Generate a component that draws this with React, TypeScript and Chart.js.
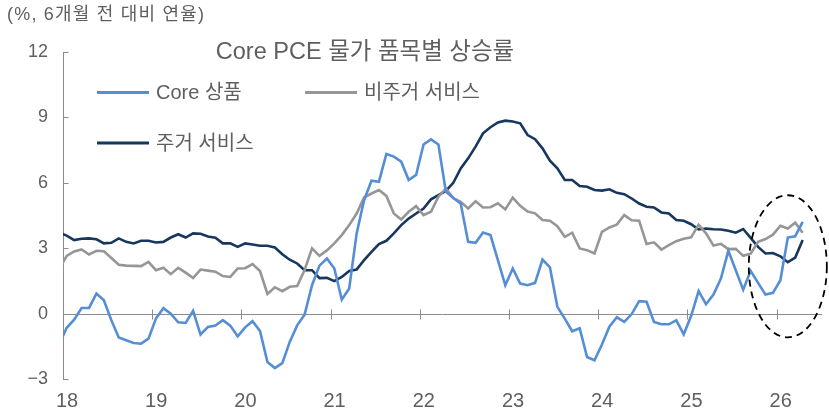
import React, { useEffect, useRef } from 'react';
import { Chart, registerables } from 'chart.js';

Chart.register(...registerables);

// Year tick labels (ticks at each January)
const YEAR_LABELS = ['18', '19', '20', '21', '22', '23', '24', '25', '26'];
const Y_MIN = -3;
const Y_MAX = 12;
const Y_STEP = 3;
const X_MAX = 102.1; // months since Jan 2018 where the axis ends

// Monthly data, Dec 2017 .. Apr 2026, plotted at mid-month
const FIRST_POINT_X = -0.5;

const CORE_GOODS = [
  -1.4, -0.65, -0.28, 0.26, 0.26, 0.92, 0.61, -0.3, -1.1, -1.22,
  -1.35, -1.38, -1.15, -0.23, 0.25, 0.0, -0.4, -0.43, 0.13, -0.96,
  -0.61, -0.55, -0.3, -0.55, -1.04, -0.63, -0.35, -0.8, -2.22, -2.5,
  -2.27, -1.3, -0.54, -0.05, 1.3, 2.2, 2.53, 2.07, 0.64, 1.15,
  3.68, 5.2, 6.1, 6.05, 7.32, 7.2, 6.97, 6.13, 6.36, 7.76,
  7.99, 7.76, 5.6, 5.3, 5.05, 3.29, 3.25, 3.72, 3.6, 2.45,
  1.3, 2.07, 1.38, 1.3, 1.41, 2.48, 2.12, 0.31, -0.23, -0.81,
  -0.67, -1.99, -2.14, -1.42, -0.6, -0.17, -0.38, -0.02, 0.57, 0.54,
  -0.38, -0.49, -0.49, -0.31, -0.95, -0.1, 1.03, 0.43, 0.87, 1.61,
  2.88, 1.99, 1.1, 1.96, 1.41, 0.87, 0.95, 1.53, 3.49, 3.55,
  4.21,
];

const NON_HOUSING_SERVICES = [
  2.05, 2.65, 2.85, 2.94, 2.71, 2.88, 2.86, 2.55, 2.24, 2.2,
  2.19, 2.18, 2.37, 1.99, 2.1, 1.81, 2.1, 1.88, 1.63, 2.02,
  1.97, 1.92, 1.72, 1.68, 2.07, 2.08, 2.27, 1.95, 0.9, 1.21,
  1.03, 1.23, 1.26, 2.0, 2.99, 2.65, 2.9, 3.22, 3.6, 4.06,
  4.59, 5.33, 5.51, 5.67, 5.4, 4.59, 4.32, 4.67, 4.93, 4.52,
  4.67, 5.36, 5.74, 5.3, 5.13, 4.82, 5.15, 4.87, 4.88, 5.06,
  4.78, 5.32, 4.94, 4.68, 4.6, 4.29, 4.26, 4.01, 3.52, 3.71,
  2.99, 2.91, 2.76, 3.75, 3.95, 4.08, 4.52, 4.28, 4.26, 3.19,
  3.27, 2.94, 3.14, 3.32, 3.43, 3.5, 4.08, 3.68, 3.12, 3.2,
  2.96, 2.97, 2.65, 2.75, 3.29, 3.42, 3.62, 4.03, 3.9, 4.17,
  3.71,
];

const HOUSING_SERVICES = [
  3.71, 3.58, 3.37, 3.43, 3.45, 3.41, 3.22, 3.25, 3.45, 3.29,
  3.22, 3.34, 3.34, 3.26, 3.29, 3.49, 3.64, 3.49, 3.68, 3.66,
  3.54, 3.48, 3.22, 3.22, 3.06, 3.22, 3.17, 3.11, 3.11, 3.03,
  2.72, 2.47, 2.3, 1.99, 1.99, 1.63, 1.64, 1.49, 1.68, 1.96,
  2.02, 2.45, 2.83, 3.19, 3.34, 3.68, 4.06, 4.36, 4.59, 4.82,
  5.24, 5.44, 5.63, 6.0, 6.66, 7.12, 7.66, 8.27, 8.55, 8.77,
  8.85, 8.81, 8.73, 8.19, 8.0, 7.58, 7.01, 6.66, 6.13, 6.13,
  5.85, 5.82, 5.67, 5.64, 5.7, 5.54, 5.48, 5.28, 5.05, 4.9,
  4.87, 4.64, 4.59, 4.29, 4.26, 4.1, 3.86, 3.9, 3.87, 3.86,
  3.8, 3.71, 3.88, 3.47, 3.06, 2.76, 2.78, 2.63, 2.36, 2.57,
  3.38,
];

const SERIES_NAMES = ['Core 상품', '비주거 서비스', '주거 서비스'];
const TITLE = 'Core PCE 물가 품목별 상승률';
const UNIT_NOTE = '(%, 6개월 전 대비 연율)';

// Highlight ellipse (data units)
const HIGHLIGHT = { cx: 97.5, cy: 2.17, rx: 5.25, ry: 3.26 };

const BLUE = '#558ED5';
const GRAY = '#969696';
const NAVY = '#17375E';
const TEXT = '#5F5F5F';
const AXIS = '#8C8C8C';
const LATIN_FONT = '"Liberation Sans", Arial, "Noto Sans CJK KR", sans-serif';

const toPoints = (arr: number[]) => arr.map((v, i) => ({ x: i + FIRST_POINT_X, y: v }));

export default function App() {
  const canvasRef = useRef<HTMLCanvasElement | null>(null);

  useEffect(() => {
    const canvas = canvasRef.current;
    if (!canvas) return;

    const decor = {
      id: 'decor',
      beforeDatasetsDraw(chart: any) {
        const { ctx, chartArea, scales } = chart;
        const x = scales.x;
        const y = scales.y;
        ctx.save();
        ctx.strokeStyle = AXIS;
        ctx.lineWidth = 1;
        const y0 = Math.round(y.getPixelForValue(0)) + 0.5;
        ctx.beginPath();
        ctx.moveTo(chartArea.left, y0);
        ctx.lineTo(chartArea.right, y0);
        ctx.stroke();
        YEAR_LABELS.forEach((_, j) => {
          if (j === 0) return;
          const px = Math.round(x.getPixelForValue(j * 12)) + 0.5;
          ctx.beginPath();
          ctx.moveTo(px, y0 - 5);
          ctx.lineTo(px, y0 + 5);
          ctx.stroke();
        });
        const ax = Math.round(chartArea.left) + 0.5;
        for (let v = Y_MIN; v <= Y_MAX; v += Y_STEP) {
          const py = Math.round(y.getPixelForValue(v)) + 0.5;
          ctx.beginPath();
          ctx.moveTo(ax, py);
          ctx.lineTo(ax + 5, py);
          ctx.stroke();
        }
        ctx.restore();
      },
      afterDraw(chart: any) {
        const { ctx, scales } = chart;
        const x = scales.x;
        const y = scales.y;
        ctx.save();
        const cx = x.getPixelForValue(HIGHLIGHT.cx);
        const cy = y.getPixelForValue(HIGHLIGHT.cy);
        const rx = x.getPixelForValue(HIGHLIGHT.cx + HIGHLIGHT.rx) - cx;
        const ry = cy - y.getPixelForValue(HIGHLIGHT.cy + HIGHLIGHT.ry);
        ctx.strokeStyle = '#000000';
        ctx.lineWidth = 1.8;
        ctx.setLineDash([7, 5]);
        ctx.beginPath();
        ctx.ellipse(cx, cy, rx, ry, 0, 0, Math.PI * 2);
        ctx.stroke();
        ctx.setLineDash([]);

        ctx.fillStyle = TEXT;
        ctx.textBaseline = 'middle';
        ctx.textAlign = 'left';
        ctx.font = `18px ${LATIN_FONT}`;
        (ctx as any).letterSpacing = '1.2px';
        ctx.fillText(UNIT_NOTE, 7, 15);
        (ctx as any).letterSpacing = '0px';

        ctx.textAlign = 'center';
        ctx.font = `23.5px ${LATIN_FONT}`;
        ctx.fillText(TITLE, 365, 53);

        const items = [
          { name: SERIES_NAMES[0], color: BLUE, x: 97, y: 92.5 },
          { name: SERIES_NAMES[1], color: GRAY, x: 305, y: 92.5 },
          { name: SERIES_NAMES[2], color: NAVY, x: 97, y: 143 },
        ];
        ctx.textAlign = 'left';
        ctx.font = `20px ${LATIN_FONT}`;
        items.forEach((it) => {
          ctx.strokeStyle = it.color;
          ctx.lineWidth = 3;
          ctx.beginPath();
          ctx.moveTo(it.x, it.y);
          ctx.lineTo(it.x + 52, it.y);
          ctx.stroke();
          ctx.fillStyle = TEXT;
          ctx.fillText(it.name, it.x + 59, it.y + 1);
        });
        ctx.restore();
      },
    };

    const chart = new Chart(canvas, {
      type: 'line',
      data: {
        datasets: [
          { label: SERIES_NAMES[0], data: toPoints(CORE_GOODS), borderColor: BLUE, borderWidth: 2.6 },
          { label: SERIES_NAMES[1], data: toPoints(NON_HOUSING_SERVICES), borderColor: GRAY, borderWidth: 2.6 },
          { label: SERIES_NAMES[2], data: toPoints(HOUSING_SERVICES), borderColor: NAVY, borderWidth: 2.6 },
        ].map((d) => ({ ...d, pointRadius: 0, tension: 0, fill: false, clip: 0 })) as any,
      },
      options: {
        responsive: false,
        animation: false,
        devicePixelRatio: 1,
        layout: { padding: { top: 52, right: 7, left: 0, bottom: 0 } },
        plugins: { legend: { display: false }, tooltip: { enabled: false }, title: { display: false } },
        scales: {
          x: {
            type: 'linear',
            min: 0,
            max: X_MAX,
            grid: { display: false, drawTicks: false },
            border: { display: false },
            afterBuildTicks: (scale: any) => {
              scale.ticks = YEAR_LABELS.map((_, j) => ({ value: j * 12 }));
            },
            afterFit: (scale: any) => {
              scale.height = 33;
            },
            ticks: {
              autoSkip: false,
              maxRotation: 0,
              color: TEXT,
              padding: 10,
              labelOffset: 4,
              font: { family: '"Liberation Sans Narrow", "Liberation Sans", Arial, sans-serif', size: 20 },
              callback: (v: any) => YEAR_LABELS[Math.round(Number(v) / 12)] ?? '',
            },
          },
          y: {
            type: 'linear',
            min: Y_MIN,
            max: Y_MAX,
            grid: { display: false, drawTicks: false },
            border: { display: true, color: AXIS, width: 1 },
            afterFit: (scale: any) => {
              scale.width = 63;
            },
            ticks: {
              stepSize: Y_STEP,
              color: TEXT,
              padding: 15,
              font: { family: LATIN_FONT, size: 18 },
              callback: (v: any) => String(v).replace('-', '\u2212'),
            },
          },
        },
      },
      plugins: [decor],
    });

    return () => chart.destroy();
  }, []);

  return (
    <div style={{ position: 'absolute', left: 0, top: 0, width: 829, height: 412, background: '#ffffff' }}>
      <canvas ref={canvasRef} width={829} height={412} style={{ display: 'block' }} />
    </div>
  );
}
